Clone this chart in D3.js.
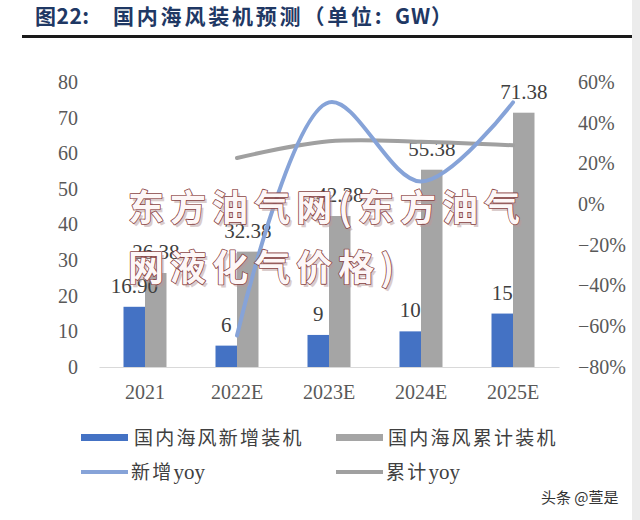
<!DOCTYPE html>
<html><head><meta charset="utf-8">
<script src="https://cdn.jsdelivr.net/npm/d3@7"></script>
<style>body{margin:0;background:#fff}svg{display:block}</style>
</head><body><svg id="c" width="640" height="520"></svg>
<script>
const categories = ["2021","2022E","2023E","2024E","2025E"];
const newInstall = [16.90, 6, 9, 10, 15];
const cumInstall = [26.38, 32.38, 42.38, 55.38, 71.38];
const newLabels = ["16.90","6","9","10","15"];
const cumLabels = ["26.38","32.38","42.38","55.38","71.38"];
const newYoy = [null, -0.645, 0.50, 0.111, 0.50];
const cumYoy = [null, 0.227, 0.309, 0.307, 0.289];
const leftTicks = [0,10,20,30,40,50,60,70,80];
const rightTicks = [-0.8,-0.6,-0.4,-0.2,0,0.2,0.4,0.6];
const legendNames = ["国内海风新增装机","国内海风累计装机","新增","累计"];

const svg = d3.select("#c");
const serif = "'Liberation Serif','Times New Roman',serif";
const cjk = "'Noto Sans CJK SC','Noto Sans',sans-serif";

// right edge strip
svg.append("rect").attr("x",632).attr("y",0).attr("width",8).attr("height",520).attr("fill","#ececec");

// title
const tt = svg.append("text").attr("y",24).attr("font-family",cjk).attr("font-weight","bold")
  .attr("font-size",21).attr("fill","#1f3864");
tt.append("tspan").attr("x",35).attr("letter-spacing",0.5).text("图22:");
tt.append("tspan").attr("x",113).attr("letter-spacing",2.8).text("国内海风装机预测（单位:");
tt.append("tspan").attr("x",395).attr("letter-spacing",1).text("GW）");
svg.append("rect").attr("x",22).attr("y",35).attr("width",610).attr("height",3).attr("fill","#1a1a1a");

const x = d3.scaleBand().domain(categories).range([99,559]);
const yL = d3.scaleLinear().domain([0,80]).range([367,82]);
const yR = d3.scaleLinear().domain([-0.8,0.6]).range([367,82]);
const bw = 21.5;

// axes
const axL = svg.append("g").attr("transform","translate(78,0)")
  .call(d3.axisLeft(yL).tickValues(leftTicks).tickSize(0).tickPadding(0));
axL.select(".domain").remove();
axL.selectAll("text").attr("font-family",serif).attr("font-size",20).attr("fill","#595959");

const axR = svg.append("g").attr("transform","translate(578,0)")
  .call(d3.axisRight(yR).tickValues(rightTicks).tickSize(0).tickPadding(0).tickFormat(d3.format(".0%")));
axR.select(".domain").remove();
axR.selectAll("text").attr("font-family",serif).attr("font-size",20).attr("fill","#595959");

const axB = svg.append("g").attr("transform","translate(0,367)")
  .call(d3.axisBottom(x).tickSize(0).tickPadding(14));
axB.select(".domain").attr("stroke","#d9d9d9").attr("stroke-width",1.2);
axB.selectAll("text").attr("font-family",serif).attr("font-size",20).attr("fill","#595959").attr("dy","0.9em");

const cx = d => x(d) + x.bandwidth()/2;

// bars
svg.append("g").selectAll("rect").data(categories).join("rect")
  .attr("x",(d)=>cx(d)-bw).attr("width",bw)
  .attr("y",(d,i)=>yL(newInstall[i])).attr("height",(d,i)=>yL(0)-yL(newInstall[i]))
  .attr("fill","#4472c4");
svg.append("g").selectAll("rect").data(categories).join("rect")
  .attr("x",(d)=>cx(d)).attr("width",bw)
  .attr("y",(d,i)=>yL(cumInstall[i])).attr("height",(d,i)=>yL(0)-yL(cumInstall[i]))
  .attr("fill","#a5a5a5");

// labels
svg.append("g").selectAll("text").data(categories).join("text")
  .attr("x",d=>cx(d)-bw/2).attr("y",(d,i)=>yL(newInstall[i])-14)
  .attr("text-anchor","middle").attr("font-family",serif).attr("font-size",21).attr("fill","#404040")
  .text((d,i)=>newLabels[i]);
svg.append("g").selectAll("text").data(categories).join("text")
  .attr("x",d=>cx(d)+bw/2).attr("y",(d,i)=>yL(cumInstall[i])-14)
  .attr("text-anchor","middle").attr("font-family",serif).attr("font-size",21).attr("fill","#404040")
  .text((d,i)=>cumLabels[i]);

// lines
const pts = arr => categories.map((c,i)=>[cx(c), arr[i]]).filter(p=>p[1]!==null);
const line = d3.line().x(p=>p[0]).y(p=>yR(p[1])).curve(d3.curveCatmullRom.alpha(0.5));
svg.append("path").attr("d",line(pts(cumYoy))).attr("fill","none").attr("stroke","#a0a0a0").attr("stroke-width",4).attr("stroke-linecap","round");
svg.append("path").attr("d",line(pts(newYoy))).attr("fill","none").attr("stroke","#86a3d8").attr("stroke-width",4).attr("stroke-linecap","round");

// legend
const lg = svg.append("g");
lg.append("rect").attr("x",81).attr("y",434).attr("width",47).attr("height",7).attr("fill","#4472c4");
lg.append("rect").attr("x",336).attr("y",434).attr("width",47).attr("height",7).attr("fill","#a5a5a5");
lg.append("rect").attr("x",81).attr("y",470).attr("width",47).attr("height",4).attr("fill","#86a3d8");
lg.append("rect").attr("x",336).attr("y",470).attr("width",47).attr("height",4).attr("fill","#a0a0a0");
const lt = (xx,yy,t,suffix)=>{
  const tx = lg.append("text").attr("x",xx).attr("y",yy).attr("font-family",cjk).attr("font-size",19)
    .attr("letter-spacing",2.2).attr("fill","#404040");
  tx.append("tspan").text(t);
  if(suffix){ tx.append("tspan").attr("font-family",serif).attr("font-size",21).attr("letter-spacing",0).text(suffix); }
};
lt(134,445,legendNames[0]); lt(388,445,legendNames[1]);
lt(131,479,legendNames[2],"yoy"); lt(386,479,legendNames[3],"yoy");

// watermark
const wm = svg.append("g");
const wmLines = [["东方油气网(东方油气",128,221,392],["网液化气价格)",128,281,266]];
wmLines.forEach(([t,xx,yy,w])=>{
  wm.append("text").attr("x",xx+2.5).attr("y",yy+2.5).attr("font-family",cjk).attr("font-size",36).attr("font-weight","bold")
    .attr("textLength",w).attr("lengthAdjust","spacing").attr("fill","#b79a9a").attr("opacity",0.5).text(t);
  wm.append("text").attr("x",xx).attr("y",yy).attr("font-family",cjk).attr("font-size",36).attr("font-weight","bold")
    .attr("textLength",w).attr("lengthAdjust","spacing").attr("fill","#fdf7f7")
    .attr("stroke","#8a4444").attr("stroke-width",1.6).attr("paint-order","stroke").attr("stroke-linejoin","round").text(t);
});

// source mark
svg.append("text").attr("x",541).attr("y",503).attr("font-family",cjk).attr("font-size",15)
  .attr("fill","#333").text("头条 @萱是");
</script></body></html>
